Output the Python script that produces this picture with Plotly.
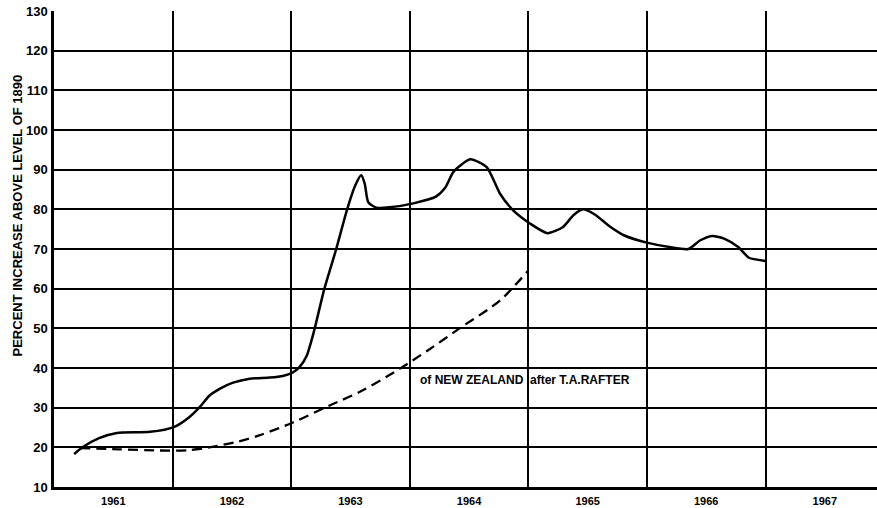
import plotly.graph_objects as go

# measured curve (percent increase above 1890 level)
solid_x = [1960.67, 1960.74, 1960.88, 1961.03, 1961.31, 1961.51, 1961.64, 1961.73,
           1961.81, 1961.90, 1962.01, 1962.15, 1962.32, 1962.43, 1962.51, 1962.57, 1962.63,
           1962.69, 1962.78, 1962.88, 1962.97, 1963.04, 1963.09, 1963.12, 1963.15,
           1963.22, 1963.33, 1963.53, 1963.72, 1963.80, 1963.87, 1964.01, 1964.15,
           1964.26, 1964.37, 1964.51, 1964.66, 1964.79, 1964.88, 1964.96, 1965.06, 1965.19,
           1965.31, 1965.50, 1965.69, 1965.85, 1965.95, 1966.05, 1966.16, 1966.27,
           1966.36, 1966.50]
solid_y = [18.3, 20.0, 22.3, 23.6, 23.9, 25.1, 27.6, 30.2,
           33.0, 34.8, 36.3, 37.3, 37.6, 38.0, 38.8, 40.2, 43.0,
           49.0, 60.0, 70.0, 79.8, 86.0, 88.6, 86.5, 81.8,
           80.4, 80.5, 81.5, 83.2, 85.5, 89.5, 92.6, 90.6,
           84.0, 79.8, 76.5, 74.0, 75.5, 78.5, 80.0, 78.7, 75.6,
           73.4, 71.6, 70.5, 70.0, 72.2, 73.3, 72.5, 70.5,
           67.8, 67.0]

# New Zealand curve (after T.A. Rafter)
nz_x = [1960.72, 1961.05, 1961.39, 1961.64, 1961.81, 1962.06, 1962.23, 1962.51, 1962.82,
        1963.08, 1963.41, 1963.67, 1963.92, 1964.26, 1964.50]
nz_y = [19.8, 19.5, 19.2, 19.3, 20.0, 21.5, 23.0, 26.2, 30.5,
        34.0, 39.7, 44.8, 50.0, 57.0, 64.6]

years = [1961, 1962, 1963, 1964, 1965, 1966, 1967]
year_bounds = [1961.5, 1962.5, 1963.5, 1964.5, 1965.5, 1966.5]
y_ticks = list(range(10, 131, 10))

font_fam = "Liberation Sans, Arial, sans-serif"

fig = go.Figure()

fig.add_trace(go.Scatter(
    x=solid_x, y=solid_y, mode="lines",
    line=dict(color="black", width=2.5, shape="spline", smoothing=0.6),
    showlegend=False, hoverinfo="skip"
))

fig.add_trace(go.Scatter(
    x=nz_x, y=nz_y, mode="lines",
    line=dict(color="black", width=2.3, shape="spline", smoothing=0.8, dash="10px,6px"),
    showlegend=False, hoverinfo="skip"
))

fig.add_annotation(
    x=1963.57, y=37, xref="x", yref="y", xanchor="left",
    text="<b>of NEW ZEALAND  after T.A.RAFTER</b>", showarrow=False,
    font=dict(family=font_fam, size=12, color="black")
)

fig.add_annotation(
    x=-0.044, y=0.57, xref="paper", yref="paper", xanchor="center",
    text="<b>PERCENT INCREASE ABOVE LEVEL OF 1890</b>", showarrow=False,
    textangle=-90, font=dict(family=font_fam, size=13, color="black")
)

fig.update_layout(
    width=877, height=508,
    margin=dict(l=54, r=0, t=11, b=21),
    paper_bgcolor="white", plot_bgcolor="white",
    xaxis=dict(
        range=[1960.5, 1967.44], automargin=False,
        tickmode="array", tickvals=years,
        ticktext=["<b>%d</b>" % y for y in years],
        showgrid=False, zeroline=False,
        showline=True, linecolor="black", linewidth=2.5,
        ticks="", ticklabelstandoff=2,
        tickfont=dict(family=font_fam, size=11, color="black"),
        minor=dict(tickmode="array", tickvals=year_bounds, showgrid=True,
                   gridcolor="black", gridwidth=1.6, ticks=""),
    ),
    yaxis=dict(
        range=[10, 130], automargin=False,
        tickmode="array", tickvals=y_ticks,
        ticktext=["<b>%d</b>" % v for v in y_ticks],
        showgrid=True, gridcolor="black", gridwidth=1.6,
        zeroline=False, showline=True, linecolor="black", linewidth=2.5,
        ticks="", ticklabelstandoff=1,
        tickfont=dict(family=font_fam, size=13, color="black"),
    ),
)

# page body has a default 8px margin; drop it so the figure sits at the corner
fig.write_html("out.html", config={"displayModeBar": False},
               post_script="document.body.style.margin='0';")
